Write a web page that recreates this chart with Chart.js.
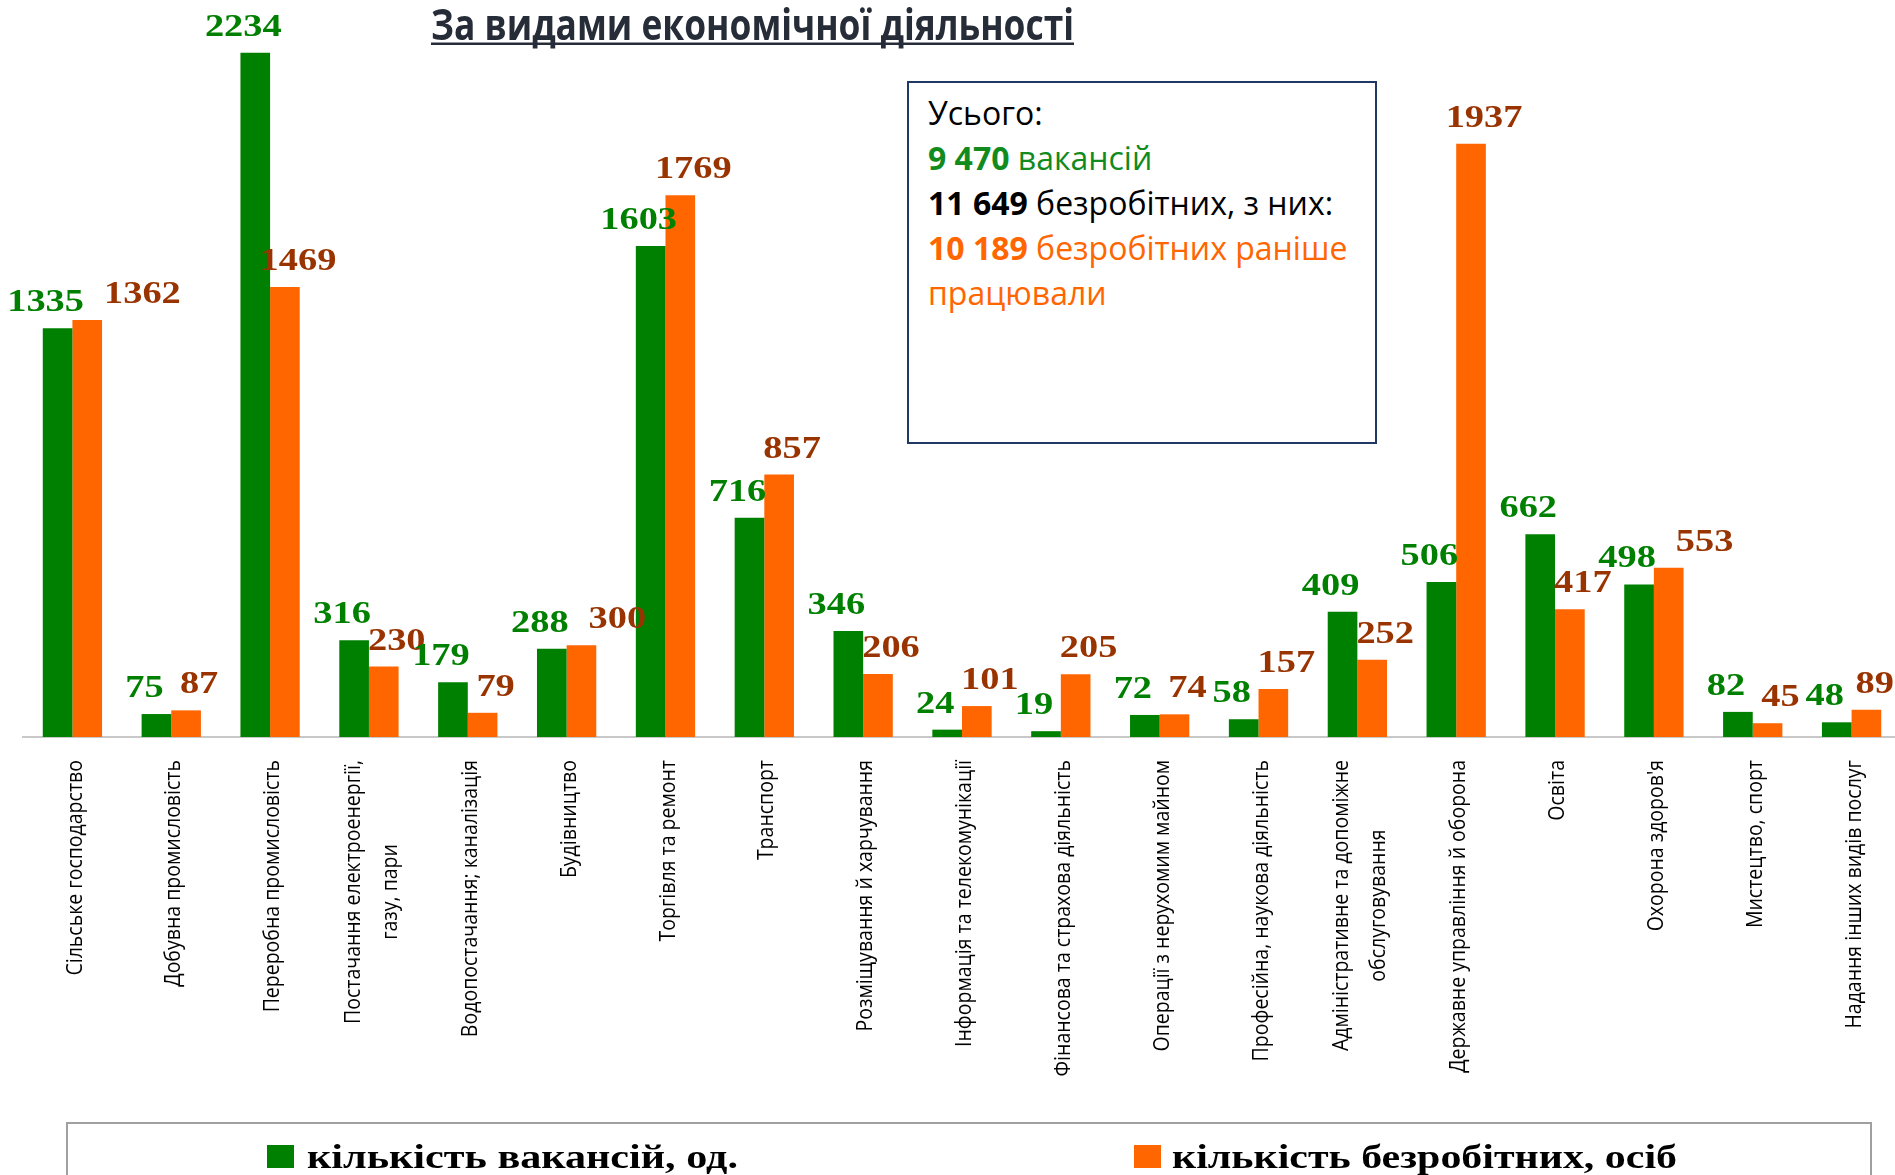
<!DOCTYPE html>
<html>
<head>
<meta charset="utf-8">
<script src="https://cdn.jsdelivr.net/npm/chart.js@4.4.1/dist/chart.umd.min.js"></script>
<style>
html,body{margin:0;padding:0;overflow:hidden;background:#fff;}
#wrap{position:relative;width:1895px;height:1175px;overflow:hidden;background:#fff;}
#c{position:absolute;left:0;top:0;}
#info{position:absolute;left:907px;top:81px;width:470px;height:363px;box-sizing:border-box;border:2px solid #203864;padding:7px 0 0 19px;font-family:"Open Sans",sans-serif;font-size:32px;line-height:45px;color:#000;background:#fff;white-space:nowrap;}
#info .g{color:#118a1e;}
#info .o{color:#ff6600;}
#info b{font-weight:700;}
</style>
</head>
<body>
<div id="wrap">
<canvas id="c" width="1905" height="1175"></canvas>
<div id="info">
  <div>Усього:</div>
  <div class="g"><b>9 470</b> вакансій</div>
  <div><b>11 649</b> безробітних, з них:</div>
  <div class="o"><b>10 189</b> безробітних раніше</div>
  <div class="o">працювали</div>
</div>
</div>
<script>
const titleText = 'За видами економічної діяльності';
const categories = [
  'Сільське господарство',
  'Добувна промисловість',
  'Переробна промисловість',
  ['Постачання електроенергії,', 'газу, пари'],
  'Водопостачання; каналізація',
  'Будівництво',
  'Торгівля та ремонт',
  'Транспорт',
  'Розміщування й харчування',
  'Інформація та телекомунікації',
  'Фінансова та страхова діяльність',
  'Операції з нерухомим майном',
  'Професійна, наукова діяльність',
  ['Адміністративне та допоміжне', 'обслуговування'],
  'Державне управління й оборона',
  'Освіта',
  "Охорона здоров'я",
  'Мистецтво, спорт',
  'Надання інших видів послуг'
];
const vacancies  = [1335, 75, 2234, 316, 179, 288, 1603, 716, 346, 24, 19, 72, 58, 409, 506, 662, 498, 82, 48];
const unemployed = [1362, 87, 1469, 230, 79, 300, 1769, 857, 206, 101, 205, 74, 157, 252, 1937, 417, 553, 45, 89];
const seriesNames = ['кількість вакансій, од.', 'кількість безробітних, осіб'];
const yMax = 2400;

const GREEN = '#008000', ORANGE = '#ff6600';
const LABEL_COLORS = ['#008000', '#993300'];
const SERIF = '"Liberation Serif", "Times New Roman", Times, serif';

const titlePlugin = {
  id: 'slideTitle',
  afterDraw(chart) {
    const ctx = chart.ctx;
    ctx.save();
    ctx.font = 'bold 43px "Open Sans"';
    const w = ctx.measureText(titleText).width;
    const target = 643, left = 431, base = 40;
    ctx.fillStyle = '#262d38';
    ctx.textBaseline = 'alphabetic';
    ctx.textAlign = 'left';
    ctx.translate(left, base);
    ctx.scale(target / w, 1);
    ctx.fillText(titleText, 0, 0);
    ctx.restore();
    ctx.save();
    ctx.strokeStyle = '#262d38';
    ctx.lineWidth = 2.5;
    ctx.beginPath();
    ctx.moveTo(left, 43.8);
    ctx.lineTo(left + target, 43.8);
    ctx.stroke();
    ctx.restore();
  }
};

const tickPlugin = {
  id: 'rotTicks',
  afterDraw(chart) {
    const ctx = chart.ctx;
    const xs = chart.scales.x;
    const hs = 1.1, gap = 37, top = 760;
    ctx.save();
    ctx.font = '19.5px "Open Sans"';
    ctx.fillStyle = '#000';
    chart.data.labels.forEach((lab, i) => {
      const lines = Array.isArray(lab) ? lab : [lab];
      const W = Math.max(...lines.map(l => ctx.measureText(l).width));
      const x = xs.getPixelForValue(i) + 3;
      ctx.save();
      ctx.translate(x, top);
      ctx.rotate(-Math.PI / 2);
      ctx.scale(1, hs);
      ctx.textAlign = 'center';
      ctx.textBaseline = 'middle';
      lines.forEach((l, k) => {
        ctx.fillText(l, -W / 2, (k - (lines.length - 1) / 2) * gap / hs);
      });
      ctx.restore();
    });
    ctx.restore();
  }
};

const valuePlugin = {
  id: 'valueLabels',
  afterDatasetsDraw(chart) {
    const ctx = chart.ctx;
    const sx = 1.2;
    ctx.save();
    ctx.font = 'bold 32px ' + SERIF;
    ctx.textBaseline = 'alphabetic';
    ctx.textAlign = 'center';
    const m0 = chart.getDatasetMeta(0).data, m1 = chart.getDatasetMeta(1).data;
    const d0 = chart.data.datasets[0].data, d1 = chart.data.datasets[1].data;
    for (let i = 0; i < d0.length; i++) {
      const t0 = String(d0[i]), t1 = String(d1[i]);
      const w0 = ctx.measureText(t0).width * sx, w1 = ctx.measureText(t1).width * sx;
      const x0 = m0[i].x - 12, y0 = m0[i].y - 17;
      let x1 = m1[i].x + 13; const y1 = m1[i].y - 17;
      const overlapV = Math.abs(y0 - y1) < 24;
      const right0 = x0 + w0 / 2;
      if (overlapV && x1 - w1 / 2 < right0 + 4) x1 = right0 + 20 + w1 / 2;
      if (x1 + w1 / 2 > 1894) x1 = 1894 - w1 / 2;
      [[t0, x0, y0, 0], [t1, x1, y1, 1]].forEach(([t, x, y, k]) => {
        ctx.save();
        ctx.fillStyle = LABEL_COLORS[k];
        ctx.translate(x, y);
        ctx.scale(sx, 1);
        ctx.fillText(t, 0, 0);
        ctx.restore();
      });
    }
    ctx.restore();
  }
};

const legendPlugin = {
  id: 'boxLegend',
  afterDraw(chart) {
    const ctx = chart.ctx;
    ctx.save();
    ctx.strokeStyle = '#a0a0a0';
    ctx.lineWidth = 2;
    ctx.strokeRect(67, 1123, 1804, 80);
    const items = [
      {sq: 267, txt: 307, w: 431},
      {sq: 1134, txt: 1172, w: 505}
    ];
    ctx.font = 'bold 33px ' + SERIF;
    ctx.textBaseline = 'alphabetic';
    ctx.textAlign = 'left';
    chart.data.datasets.forEach((ds, k) => {
      const it = items[k];
      ctx.fillStyle = ds.backgroundColor;
      ctx.fillRect(it.sq, 1145, 27, 23);
      const tw = ctx.measureText(ds.label).width;
      ctx.save();
      ctx.fillStyle = '#000';
      ctx.translate(it.txt, 1168);
      ctx.scale(it.w / tw, 1);
      ctx.fillText(ds.label, 0, 0);
      ctx.restore();
    });
    ctx.restore();
  }
};

const chart = new Chart(document.getElementById('c'), {
  type: 'bar',
  data: {
    labels: categories,
    datasets: [
      {label: seriesNames[0], data: vacancies, backgroundColor: GREEN, borderWidth: 0},
      {label: seriesNames[1], data: unemployed, backgroundColor: ORANGE, borderWidth: 0}
    ]
  },
  options: {
    responsive: false,
    animation: false,
    devicePixelRatio: 1,
    layout: {padding: {top: 2, bottom: 438, left: 23, right: 4}},
    plugins: {legend: {display: false}, tooltip: {enabled: false}, title: {display: false}},
    datasets: {bar: {categoryPercentage: 0.6, barPercentage: 1.0}},
    scales: {
      x: {
        grid: {display: false, drawTicks: false},
        ticks: {display: false},
        border: {display: true, color: '#c8c8c8', width: 2}
      },
      y: {display: false, min: 0, max: yMax}
    }
  },
  plugins: [titlePlugin, tickPlugin, valuePlugin, legendPlugin]
});
if (document.fonts && document.fonts.load) {
  Promise.all([
    document.fonts.load('bold 32px "Liberation Serif"'),
    document.fonts.load('19.5px "Open Sans"'),
    document.fonts.load('bold 43px "Open Sans"')
  ]).then(() => chart.draw()).catch(() => {});
}
</script>
</body>
</html>
